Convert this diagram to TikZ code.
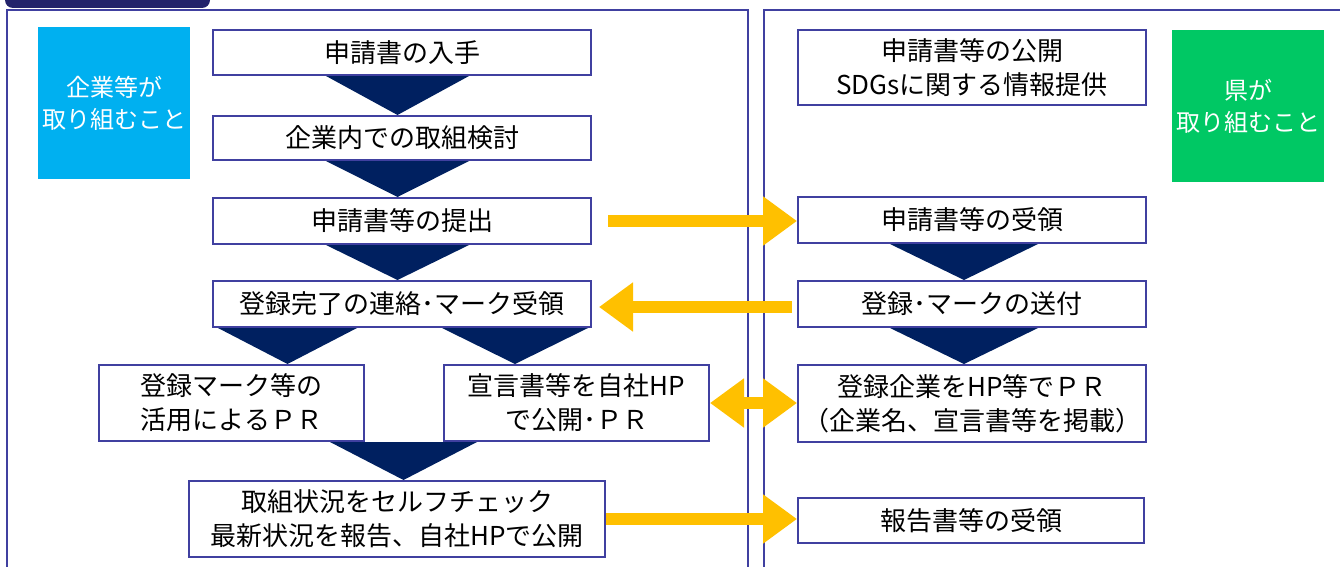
\documentclass[tikz,border=0pt]{standalone}
\usepackage{fontspec}
\setmainfont{Noto Sans CJK JP}
\usetikzlibrary{arrows.meta, calc, backgrounds}
\definecolor{frameBlue}{HTML}{4040A0}
\definecolor{tabNavy}{HTML}{23236B}
\definecolor{chevronNavy}{HTML}{002060}
\definecolor{arrowYellow}{HTML}{FFC000}
\definecolor{companyCyan}{HTML}{00B0F0}
\definecolor{prefGreen}{HTML}{00C864}
\tikzset{
  flowBox/.style = {
    draw=frameBlue,
    line width=2pt,
    fill=white,
    align=center,
    inner sep=0pt,
    font=\fontsize{26}{34}\selectfont,
  },
  leftBox/.style = {flowBox, minimum width=378pt, minimum height=45pt},
  rightBox/.style = {flowBox, minimum width=348pt, minimum height=46pt},
  sideTag/.style = {
    text=white,
    align=center,
    inner sep=0pt,
    minimum width=152pt,
    minimum height=152pt,
    font=\fontsize{24}{32}\selectfont,
  },
  sendArrow/.style = {
    draw=arrowYellow,
    line width=12pt,
    -{Triangle[length=34pt, width=47pt]},
  },
  mutualArrow/.style = {
    draw=arrowYellow,
    line width=12pt,
    {Triangle[length=34pt, width=47pt]}-{Triangle[length=34pt, width=47pt]},
  },
}
\newcommand{\chevron}[3]{
  \fill[chevronNavy] ($(#1)+(-#3,0)$) -- ($(#1)+(#3,0)$) -- (#1 |- #2.north) -- cycle;
}

\begin{document}
\begin{tikzpicture}[x=1pt, y=-1pt]
\useasboundingbox (0,0) rectangle (1340,567);

% panels
\fill[tabNavy, rounded corners=8pt] (5,-30) rectangle (210,8);
\draw[frameBlue, line width=2pt] (7,10) rectangle (748,600);
\draw[frameBlue, line width=2pt] (764,10) rectangle (1370,600);

\node(Company)[sideTag, fill=companyCyan] at (114,103) {企業等が\\取り組むこと};
\node(Pref)[sideTag, fill=prefGreen] at (1248,106) {県が\\取り組むこと};

% company side
\node(Obtain)[leftBox] at (402,52.5) {申請書の入手};
\node(Study)[leftBox, minimum height=44pt] at (402,138) {企業内での取組検討};
\node(Submit)[leftBox, minimum height=46pt] at (402,221) {申請書等の提出};
\node(Receive)[leftBox, minimum height=46pt] at (402,304) {登録完了の連絡･マーク受領};
\node(UseMark)[flowBox, minimum width=265pt, minimum height=76pt] at (231.5,403) {登録マーク等の\\活用によるＰＲ};
\node(OwnPage)[flowBox, minimum width=265pt, minimum height=76pt] at (576.5,403) {宣言書等を自社HP\\で公開･ＰＲ};
\node(Check)[flowBox, minimum width=416pt, minimum height=76pt] at (397,519) {取組状況をセルフチェック\\最新状況を報告、自社HPで公開};

% prefecture side
\node(Publish)[rightBox, minimum height=75pt] at (972,67.5) {申請書等の公開\\SDGsに関する情報提供};
\node(Accept)[rightBox] at (972,220) {申請書等の受領};
\node(Send)[rightBox] at (972,304) {登録･マークの送付};
\node(Promote)[rightBox, minimum height=77pt] at (972,403.5) {登録企業をHP等でＰＲ\\（企業名、宣言書等を掲載）};
\node(Report)[rightBox, minimum width=346pt, minimum height=45pt] at (971,520.5) {報告書等の受領};

% chevrons
\coordinate(ObtainTip) at ($(Obtain.south)+(-4.5,0)$);
\coordinate(StudyTip) at ($(Study.south)+(-4.5,0)$);
\coordinate(SubmitTip) at ($(Submit.south)+(-4.5,0)$);
\coordinate(ReceiveLeft) at ($(Receive.south)+(-114.5,0)$);
\coordinate(ReceiveRight) at ($(Receive.south)+(113,0)$);
\coordinate(PairTip) at ($(UseMark.south -| Check.north)+(6.5,0)$);
\coordinate(AcceptTip) at ($(Accept.south)+(-8,0)$);
\coordinate(SendTip) at ($(Send.south)+(-8,0)$);
\begin{pgfonlayer}{background}
  \chevron{ObtainTip}{Study}{71.5}
  \chevron{StudyTip}{Submit}{71.5}
  \chevron{SubmitTip}{Receive}{71.5}
  \chevron{ReceiveLeft}{UseMark}{69.5}
  \chevron{ReceiveRight}{OwnPage}{73}
  \chevron{PairTip}{Check}{73.5}
  \chevron{AcceptTip}{Send}{74}
  \chevron{SendTip}{Promote}{74}
\end{pgfonlayer}

% exchanges
\coordinate(SubmitOut) at ($(Submit.east)+(16,0)$);
\draw[sendArrow] (SubmitOut) -- (SubmitOut -| Accept.west);
\draw[sendArrow, shorten <=5pt, shorten >=7pt] ([yshift=-3pt]Send.west) -- ([yshift=-3pt]Receive.east);
\draw[mutualArrow] (OwnPage.east) -- (OwnPage.east -| Promote.west);
\draw[sendArrow] (Check.east) -- (Check.east -| Report.west);

\end{tikzpicture}
\end{document}
